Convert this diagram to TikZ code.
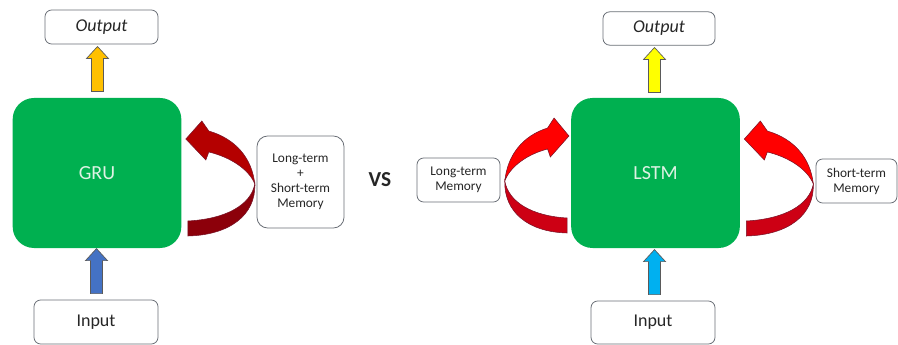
\documentclass[tikz,border=0pt]{standalone}
\usepackage{fontspec}
\setmainfont{Carlito}
\usetikzlibrary{calc}

\tikzset{every picture/.style={line width=0.75pt}}

\definecolor{cellgreen}{RGB}{0,176,80}
\definecolor{celltext}{RGB}{222,242,228}
\definecolor{boxline}{RGB}{105,110,118}
\definecolor{arrline}{RGB}{90,90,90}
\definecolor{arrorange}{RGB}{255,192,0}
\definecolor{arryellow}{RGB}{255,255,0}
\definecolor{arrblue}{RGB}{68,114,196}
\definecolor{arrcyan}{RGB}{0,176,240}
\definecolor{loopline}{RGB}{120,20,40}
\definecolor{gruhi}{RGB}{180,0,0}
\definecolor{grulo}{RGB}{140,0,10}
\definecolor{lstmhi}{RGB}{255,0,0}
\definecolor{lstmlo}{RGB}{205,0,20}

\tikzset{
  textbox/.style={draw=boxline, line width=0.6pt, fill=white, rounded corners=5pt, align=center, inner sep=0pt, text=black!85},
  cellbox/.style={fill=cellgreen, rounded corners=16pt, minimum width=126.5pt, minimum height=112.5pt, text=celltext, font=\fontsize{15}{18}\selectfont},
  memfont/.style={font=\fontsize{10}{11.25}\selectfont},
  pics/blockup/.style={code={
    \filldraw[fill=#1, draw=arrline, line width=0.5pt] (-6,0) -- (-6,33) -- (-11,33) -- (0,45) -- (11,33) -- (6,33) -- (6,0) -- cycle;
  }},
  pics/memloop/.style 2 args={code={
    % lower band
    \filldraw[fill=#2, draw=loopline, line width=0.4pt] (6,-63) .. controls (48,-62) and (74,-42) .. (73,-11) .. controls (69,-32) and (44,-46) .. (6,-48) -- cycle;
    % upper band and head
    \filldraw[fill=#1, draw=loopline, line width=0.4pt] (73,-11) .. controls (70,15) and (54,34) .. (27,42) -- (20,52) -- (4,34) -- (24,13) -- (27,21) .. controls (48,16) and (67,4) .. (73,-11) -- cycle;
  }}
}

\begin{document}
\begin{tikzpicture}[x=0.75pt,y=0.75pt,yscale=-1,xscale=1]
\useasboundingbox (0,0) rectangle (898,345);

%GRU side
\node[cellbox] (gru) at (97,173) {GRU};
\node[textbox, minimum width=84.75pt, minimum height=25.5pt, font=\itshape\fontsize{13.5}{16}\selectfont] (gruout) at (101.5,27) {Output};
\node[textbox, minimum width=93pt, minimum height=33pt, font=\fontsize{13.5}{16}\selectfont] (gruin) at (96,322) {Input};
\node[textbox, memfont, rounded corners=8pt, minimum width=65.25pt, minimum height=69pt] (grumem) at (300.5,182) {Long-term\\+\\Short-term\\Memory};

\pic (gruup) at ($(gru.north)+(0.5,-6)$) {blockup=arrorange};
\pic (gruinup) at ($(gruin.north)+(0.5,-6)$) {blockup=arrblue};
\pic (gruloop) at (gru.east) {memloop={gruhi}{grulo}};

\node[font=\bfseries\fontsize{16}{19}\selectfont, text=black!85] (vs) at (380,180) {VS};

%LSTM side
\node[cellbox] (lstm) at (655.5,173) {LSTM};
\node[textbox, minimum width=84pt, minimum height=25pt, font=\itshape\fontsize{13.5}{16}\selectfont] (lstmout) at (659,28.5) {Output};
\node[textbox, minimum width=93pt, minimum height=32.25pt, font=\fontsize{13.5}{16}\selectfont] (lstmin) at (653,322.5) {Input};
\node[textbox, memfont, minimum width=62.25pt, minimum height=33pt] (longmem) at (458.5,180) {Long-term\\Memory};
\node[textbox, memfont, minimum width=60.75pt, minimum height=33pt] (shortmem) at (856.5,181) {Short-term\\Memory};

\pic (lstmup) at ($(lstm.north)+(-1,-5)$) {blockup=arryellow};
\pic (lstminup) at ($(lstmin.north)+(1.5,-6)$) {blockup=arrcyan};
\pic[xscale=-0.93] (longloop) at ($(lstm.west)+(2,-3)$) {memloop={lstmhi}{lstmlo}};
\pic (shortloop) at (lstm.east) {memloop={lstmhi}{lstmlo}};

\end{tikzpicture}
\end{document}
